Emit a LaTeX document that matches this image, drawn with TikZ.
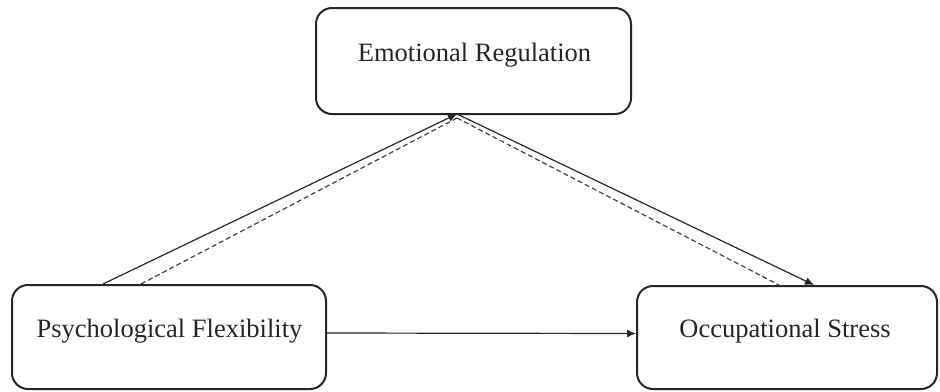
\documentclass[tikz,border=0pt]{standalone}
\usepackage{fontspec}
\setmainfont{Liberation Serif}
\usetikzlibrary{arrows.meta,calc}
\begin{document}
\begin{tikzpicture}[x={(1pt,0)},y={(0,-1pt)},
  box/.style={draw=black!85,line width=2pt,rounded corners=16pt,inner sep=0pt},
  lbl/.style={font=\fontsize{26.5}{30}\selectfont,text=black!85,inner sep=0pt},
  link/.style={draw=black!85,line width=1.2pt},
  dlink/.style={draw=black!75,line width=1.2pt,dash pattern=on 5pt off 3pt},
  tip/.style={-{Latex[length=9pt,width=8pt]}}]
\useasboundingbox (0,0) rectangle (940,391);
\node[box,minimum width=315pt,minimum height=106pt] (er) at (473.5,61) {};
\node[box,minimum width=314pt,minimum height=104pt] (pf) at (169,337) {};
\node[box,minimum width=300pt,minimum height=103pt] (os) at (787,337.5) {};
\node[lbl] (ert) at (474.5,55) {Emotional Regulation};
\node[lbl] (pft) at (169.5,331) {Psychological Flexibility};
\node[lbl] (ost) at (785,331) {Occupational Stress};
\coordinate (apex) at (457,114);
\coordinate (dapex) at (457,118);
\draw[link,tip] ([xshift=92pt]pf.north west) -- (apex);
\draw[link,tip] (apex) -- ([xshift=178pt]os.north west);
\draw[dlink] ([xshift=130pt]pf.north west) -- (dapex);
\draw[dlink] (dapex) -- ([xshift=143pt]os.north west);
\draw[link,tip] ([yshift=4pt]pf.east) -- ([yshift=4pt]os.west);
\end{tikzpicture}
\end{document}
